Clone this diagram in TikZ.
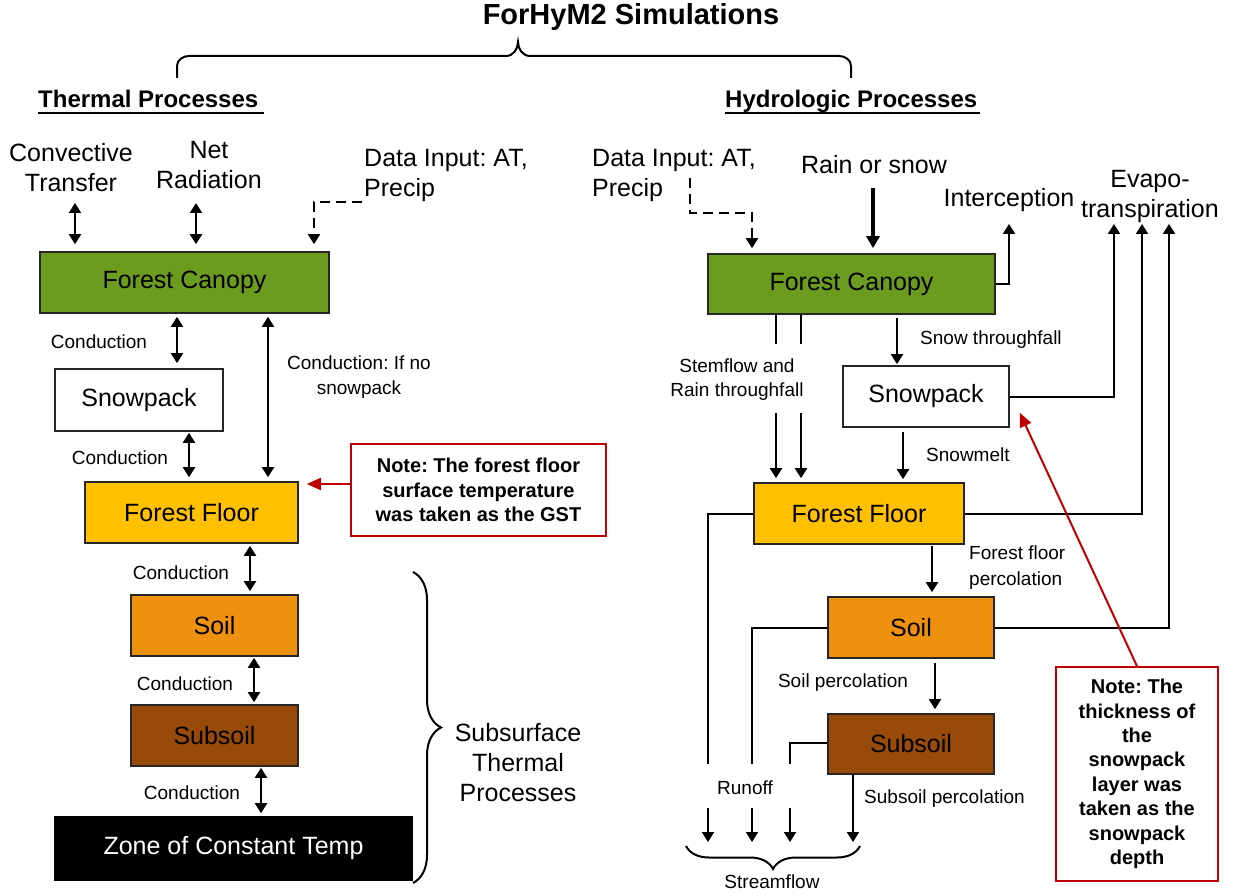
\documentclass[tikz,border=0pt]{standalone}
\usepackage{fontspec}
\setmainfont{Liberation Sans}
\usetikzlibrary{arrows.meta,decorations.pathreplacing,calc}
\definecolor{cgreen}{HTML}{6B9B1F}
\definecolor{cgold}{HTML}{FFC000}
\definecolor{corange}{HTML}{F0900F}
\definecolor{cbrown}{HTML}{984A0A}
\definecolor{cred}{HTML}{C00000}
\definecolor{cedge}{HTML}{262626}
\begin{document}
\frenchspacing
\begin{tikzpicture}[x=1pt,y=-1pt,
 box/.style={draw=cedge,line width=1.6pt,inner sep=0pt,font=\fontsize{25}{30}\selectfont},
 lbl/.style={inner sep=0pt,font=\fontsize{19}{24}\selectfont,align=center},
 big/.style={inner sep=0pt,font=\fontsize{25}{30}\selectfont,align=center},
 note/.style={draw=cred,line width=1.6pt,fill=white,inner sep=0pt,align=center,font=\bfseries\fontsize{20}{24.4}\selectfont},
 dbl/.style={line width=2pt,{Triangle[length=10pt,width=12pt]}-{Triangle[length=10pt,width=12pt]}},
 one/.style={line width=2pt,-{Triangle[length=10pt,width=12pt]}},
 ln/.style={line width=2pt},
 redarr/.style={draw=cred,line width=2pt,-{Triangle[length=14pt,width=12pt]}},
 dsh/.style={line width=2pt,dash pattern=on 10pt off 6pt,-{Triangle[length=10pt,width=12pt]}},
 brc/.style={line width=2pt,decorate},
]
\fill[white] (0,0) rectangle (1243,896);
\useasboundingbox (0,0) rectangle (1243,896);

% ---- title and top brace
\node[inner sep=0pt,font=\bfseries\fontsize{29}{34}\selectfont] (title) at (631,17) {ForHyM2 Simulations};
\coordinate (bL) at (177,78);
\coordinate (bR) at (851,78);
\coordinate (bT) at (518,42);
\draw[line width=2pt] (bL) -- (177,66) to[out=90,in=180] (189,56) -- (506,56) to[out=0,in=-90] (bT)
  to[out=-90,in=180] (530,56) -- (839,56) to[out=0,in=90] (851,66) -- (bR);

\node[inner sep=0pt,anchor=base west,font=\bfseries\fontsize{24}{28}\selectfont] (thp) at (38,108) {Thermal Processes};
\draw[line width=2pt] ([yshift=-5pt]thp.base west) -- ([yshift=-5pt,xshift=5pt]thp.base east);
\node[inner sep=0pt,anchor=base west,font=\bfseries\fontsize{24}{28}\selectfont] (hyp) at (725,108) {Hydrologic Processes};
\draw[line width=2pt] ([yshift=-5pt]hyp.base west) -- ([yshift=-5pt,xshift=2pt]hyp.base east);

% ---- thermal boxes
\node[box,fill=cgreen,minimum width=289pt,minimum height=61pt] (tc) at (184.5,282.5) {Forest Canopy};
\node[box,fill=white,minimum width=168pt,minimum height=62pt] (tsp) at (139,400) {Snowpack};
\node[box,fill=cgold,minimum width=213pt,minimum height=61pt] (tff) at (191.5,512.5) {Forest Floor};
\node[box,fill=corange,minimum width=167pt,minimum height=61pt] (tso) at (214.5,625.5) {Soil};
\node[box,fill=cbrown,minimum width=167pt,minimum height=61pt] (tsub) at (214.5,735.5) {Subsoil};
\node[box,draw=black,fill=black,text=white,minimum width=357pt,minimum height=63pt] (tz) at (233.5,848.5) {Zone of Constant Temp};
\node[note,minimum width=255pt,minimum height=92pt] (note1) at (478.5,490) {Note: The forest floor\\surface temperature\\was taken as the GST};

% ---- thermal labels
\node[big] (conv) at (71,168) {Convective\\Transfer};
\node[big] (nrad) at (209,165) {Net\\Radiation};
\node[big,align=left,anchor=west] (din1) at (364,175) {Data Input: AT,\\Precip};
\node[lbl] (c1) at (99,342) {Conduction};
\node[lbl] (c2) at (120,458) {Conduction};
\node[lbl,font=\fontsize{19}{25}\selectfont] (c3) at (359,377) {Conduction: If no\\snowpack};
\node[lbl] (c4) at (181,573) {Conduction};
\node[lbl] (c5) at (185,684) {Conduction};
\node[lbl] (c6) at (192,793) {Conduction};
\node[big] (subt) at (518,763) {Subsurface\\Thermal\\Processes};

% ---- thermal connectors
\coordinate (a1) at (75,203);
\coordinate (a2) at (196,203);
\draw[dbl,shorten >=7pt] (a1) -- (a1 |- tc.north);
\draw[dbl,shorten >=7pt] (a2) -- (a2 |- tc.north);
\coordinate (d1) at (362,202);
\coordinate (d2) at (314,202);
\draw[dsh,shorten >=7pt] (d1) -- (d2) -- (d2 |- tc.north);
\coordinate (g177) at (177,0);
\coordinate (g189) at (189,0);
\coordinate (g268) at (268,0);
\coordinate (g250) at (250,0);
\coordinate (g254) at (254,0);
\coordinate (g261) at (261,0);
\draw[dbl,shorten <=3pt,shorten >=5pt] (g177 |- tc.south) -- (g177 |- tsp.north);
\draw[dbl,shorten <=1pt,shorten >=4pt] (g189 |- tsp.south) -- (g189 |- tff.north);
\draw[dbl,shorten <=3pt,shorten >=4pt] (g268 |- tc.south) -- (g268 |- tff.north);
\draw[dbl,shorten <=2pt,shorten >=3pt] (g250 |- tff.south) -- (g250 |- tso.north);
\draw[dbl,shorten <=1pt,shorten >=2pt] (g254 |- tso.south) -- (g254 |- tsub.north);
\draw[dbl,shorten <=1pt,shorten >=3pt] (g261 |- tsub.south) -- (g261 |- tz.north);
\draw[redarr,shorten >=8pt] ([yshift=6pt]note1.west) -- ([yshift=6pt]note1.west -| tff.east);
\draw[brc,decoration={brace,amplitude=28pt}] (413,572) -- (413,883);

% ---- hydrologic boxes
\node[box,fill=cgreen,minimum width=287pt,minimum height=60pt] (hc) at (851.5,284) {Forest Canopy};
\node[box,fill=white,minimum width=166pt,minimum height=61pt] (hsp) at (926,396.5) {Snowpack};
\node[box,fill=cgold,minimum width=210pt,minimum height=61pt] (hff) at (859,513.5) {Forest Floor};
\node[box,fill=corange,minimum width=166pt,minimum height=61pt] (hso) at (911,627.5) {Soil};
\node[box,fill=cbrown,minimum width=166pt,minimum height=60pt] (hsub) at (911,744) {Subsoil};
\node[note,minimum width=162pt,minimum height=214pt] (note2) at (1137,774) {Note: The\\thickness of\\the\\snowpack\\layer was\\taken as the\\snowpack\\depth};

% ---- hydrologic labels
\node[big,align=left,anchor=west] (din2) at (592,175) {Data Input: AT,\\Precip};
\node[big] (rain) at (874,165) {Rain or snow};
\node[big] (icp) at (1009,200) {Interception};
\node[big] (et) at (1150,196) {Evapo-\\transpiration};
\node[lbl] (stf) at (737,380) {Stemflow and\\Rain throughfall};
\node[lbl,anchor=west] (snt) at (920,340) {Snow throughfall};
\node[lbl,anchor=west] (snm) at (926,455) {Snowmelt};
\node[lbl,anchor=west,align=left,font=\fontsize{19}{26}\selectfont] (ffp) at (969,568) {Forest floor\\percolation};
\node[lbl] (sop) at (843,683) {Soil percolation};
\node[lbl] (rnf) at (745,788) {Runoff};
\node[lbl,anchor=west] (ssp) at (864,799) {Subsoil percolation};
\node[lbl] (stm) at (772,882) {Streamflow};

% ---- hydrologic connectors
\coordinate (e1) at (690,178);
\coordinate (e2) at (752,213);
\draw[dsh,shorten >=5pt] (e1) |- (e2) -- (e2 |- hc.north);
\coordinate (r0) at (873,188);
\draw[line width=3.5pt,-{Triangle[length=12pt,width=13pt]},shorten >=5pt] (r0) -- (r0 |- hc.north);
\coordinate (it) at (1009,224);
\draw[one] (hc.east) -| (it);
\coordinate (et1) at (1114,224);
\coordinate (et2) at (1142,224);
\coordinate (et3) at (1169,224);
\draw[one] (hsp.east) -| (et1);
\draw[one] (hff.east) -| (et2);
\draw[one] (hso.east) -| (et3);
\coordinate (s1) at (776,344);
\coordinate (s2) at (801,344);
\coordinate (s3) at (776,413);
\coordinate (s4) at (801,413);
\draw[ln] (s1 |- hc.south) -- (s1);
\draw[ln] (s2 |- hc.south) -- (s2);
\draw[one,shorten >=4pt] (s3) -- (s3 |- hff.north);
\draw[one,shorten >=4pt] (s4) -- (s4 |- hff.north);
\coordinate (g897) at (897,0);
\coordinate (g903) at (903,0);
\coordinate (g932) at (932,0);
\coordinate (g935) at (935,0);
\draw[one,shorten <=3pt,shorten >=1pt] (g897 |- hc.south) -- (g897 |- hsp.north);
\draw[one,shorten <=4pt,shorten >=3pt] (g903 |- hsp.south) -- (g903 |- hff.north);
\draw[one,shorten <=1pt,shorten >=4pt] (g932 |- hff.south) -- (g932 |- hso.north);
\draw[one,shorten <=4pt,shorten >=4pt] (g935 |- hso.south) -- (g935 |- hsub.north);
\coordinate (q1) at (708,764);
\coordinate (q2) at (752,764);
\coordinate (q3) at (790,764);
\draw[ln] (hff.west) -| (q1);
\draw[ln] (hso.west) -| (q2);
\draw[ln] ([yshift=1pt]hsub.west) -| (q3);
\coordinate (p1) at (708,808);
\coordinate (p2) at (752,808);
\coordinate (p3) at (790,808);
\coordinate (p1b) at (708,842);
\coordinate (p2b) at (752,842);
\coordinate (p3b) at (790,842);
\coordinate (p4b) at (853,842);
\draw[one] (p1) -- (p1b);
\draw[one] (p2) -- (p2b);
\draw[one] (p3) -- (p3b);
\draw[one] (hsub.south -| p4b) -- (p4b);
\draw[brc,decoration={brace,amplitude=23pt}] (860,846) -- (686,846);
\draw[redarr] (note2.north) -- ([xshift=10pt,yshift=15pt]hsp.south east);
\end{tikzpicture}
\end{document}
